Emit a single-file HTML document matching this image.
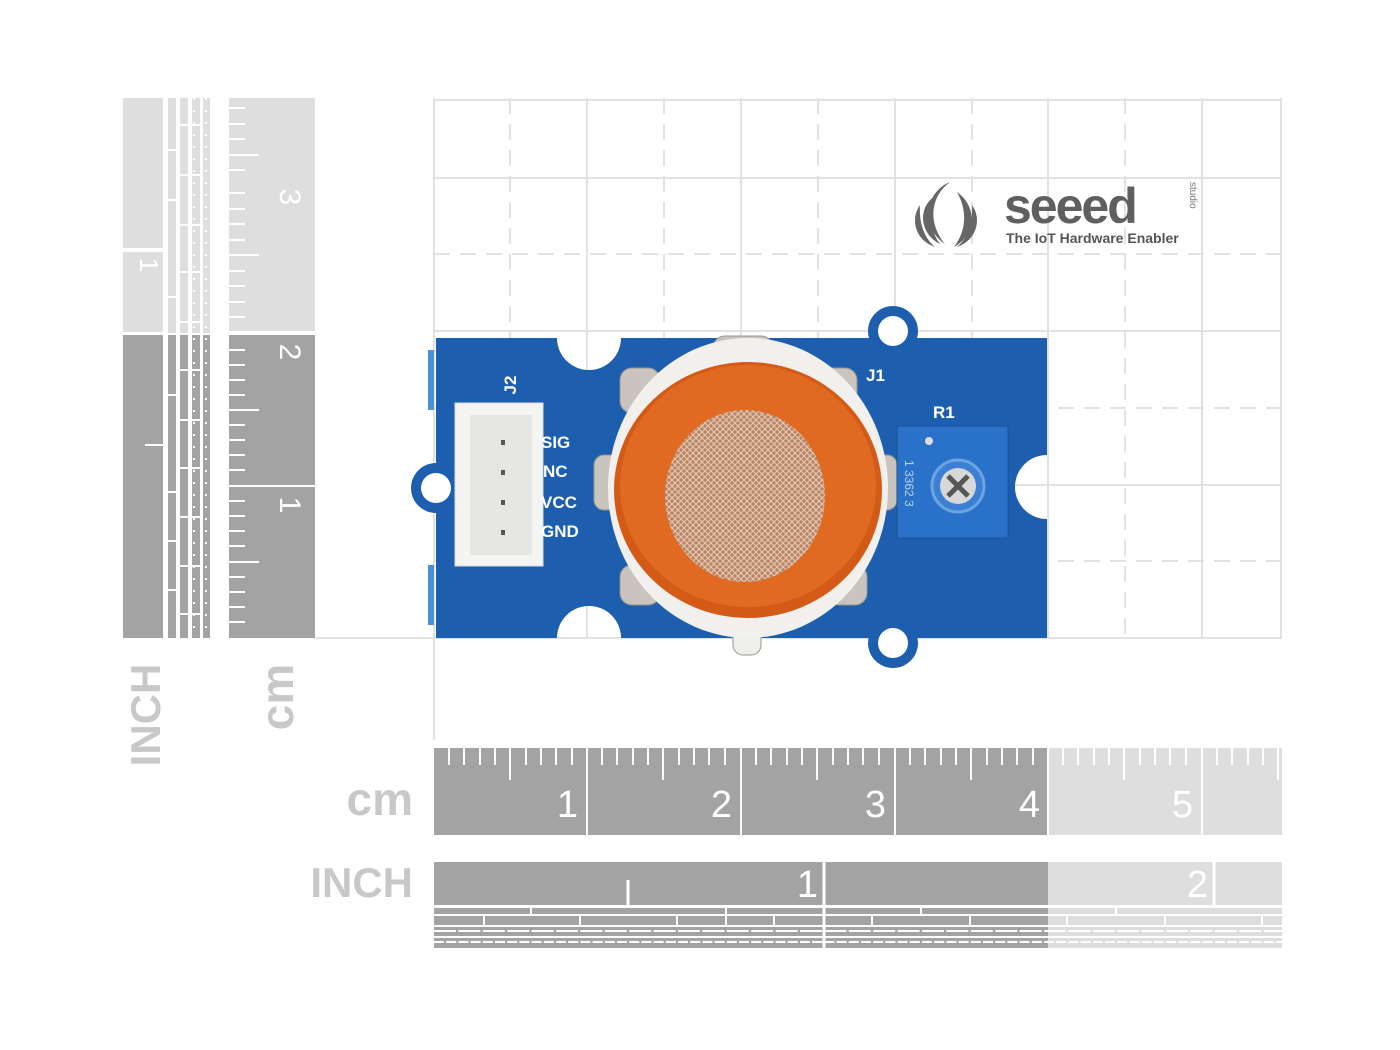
<!DOCTYPE html>
<html><head><meta charset="utf-8"><style>
html,body{margin:0;padding:0;background:#fff;width:1400px;height:1050px;overflow:hidden}
svg{display:block}
text{font-family:"Liberation Sans",sans-serif}
</style></head><body>
<svg width="1400" height="1050" viewBox="0 0 1400 1050" xmlns="http://www.w3.org/2000/svg">
<defs>
<pattern id="mesh" width="6" height="6" patternUnits="userSpaceOnUse">
<rect width="6" height="6" fill="#b98466"/><path d="M0 0L6 6M6 0L0 6" stroke="#e2c3ac" stroke-width="1.2"/>
</pattern>
</defs>
<!-- grid -->
<g stroke="#e2e2e2" stroke-width="2" fill="none">
<path d="M434 98V740M587 98V638M741 98V638M895 98V638M1048 98V638M1202 98V638M1281 98V638"/>
<path d="M434 100H1282M434 178H1282M434 331H1282M434 485H1282M316 638H1282"/>
<path stroke-dasharray="16 10" d="M510 98V638M664 98V638M818 98V638M972 98V638M1125 98V638M434 254H1282M434 408H1282M434 561H1282"/>
</g>
<!-- left INCH ruler -->
<rect x="123" y="98" width="40" height="150" fill="#dedede"/>
<rect x="123" y="252" width="40" height="80" fill="#dedede"/>
<rect x="123" y="335" width="40" height="303" fill="#a3a3a3"/>
<g fill="#dedede">
<rect x="168" y="98" width="8" height="235"/><rect x="180" y="98" width="8" height="235"/><rect x="192" y="98" width="8" height="235"/><rect x="203" y="98" width="7" height="235"/>
</g>
<g fill="#a3a3a3">
<rect x="168" y="335" width="8" height="303"/><rect x="180" y="335" width="8" height="303"/><rect x="192" y="335" width="8" height="303"/><rect x="203" y="335" width="7" height="303"/>
</g>
<g stroke="#fff" stroke-width="2">
<path d="M178 98V638M190 98V638M201 98V638"/>
<path d="M168 150H178M168 200H178M168 297H178M168 395H178M168 492H178M168 541H178M168 590H178" />
<path d="M180 125H201M180 175H201M180 225H201M180 272H201M180 322H201M180 370H201M180 420H201M180 468H201M180 517H201M180 566H201M180 614H201"/>
<path stroke-dasharray="2 10" d="M206 98V638M194 98V638"/>
<path d="M145 445H163"/>
</g>
<text transform="translate(147,265) rotate(90)" font-size="26" fill="#fff" text-anchor="middle" dominant-baseline="middle">1</text>
<!-- left cm ruler -->
<rect x="229" y="98" width="86" height="233" fill="#dedede"/>
<rect x="229" y="335" width="86" height="303" fill="#a3a3a3"/>
<g stroke="#fff" stroke-width="2">
<path d="M229 333H315"/>
<path d="M229 486H315"/>
<path d="M229 108H245M229 124H245M229 139H245M229 155H259M229 170H245M229 193H245M229 209H245M229 224H245M229 240H245M229 255H259M229 271H245M229 286H245M229 302H245M229 317H245M229 350H245M229 365H245M229 380H245M229 395H245M229 410H259M229 425H245M229 440H245M229 455H245M229 470H245M229 501H245M229 516H245M229 531H245M229 546H245M229 562H259M229 577H245M229 592H245M229 607H245M229 622H245"/>
</g>
<text transform="translate(288,197) rotate(90)" font-size="30" fill="#fff" text-anchor="middle" dominant-baseline="middle">3</text>
<text transform="translate(288,352) rotate(90)" font-size="30" fill="#fff" text-anchor="middle" dominant-baseline="middle">2</text>
<text transform="translate(288,505) rotate(90)" font-size="30" fill="#fff" text-anchor="middle" dominant-baseline="middle">1</text>
<text transform="translate(160,715) rotate(-90)" font-size="42" font-weight="bold" fill="#c8c8c8" text-anchor="middle">INCH</text>
<text transform="translate(293,697) rotate(-90)" font-size="46" font-weight="bold" fill="#c8c8c8" text-anchor="middle">cm</text>
<!-- bottom cm ruler -->
<rect x="434" y="748" width="614" height="87" fill="#a3a3a3"/>
<rect x="1048" y="748" width="234" height="87" fill="#dedede"/>
<g stroke="#fff" stroke-width="2">
<path d="M587 748V835M741 748V835M895 748V835M1048 748V835M1202 748V835"/>
<path id="tk" d="M449 748V765M464 748V765M480 748V765M495 748V765M510 748V780M526 748V765M541 748V765M556 748V765M572 748V765"/>
</g>
<g stroke="#fff" stroke-width="2">
<use href="#tk" x="153"/><use href="#tk" x="307"/><use href="#tk" x="461"/><use href="#tk" x="614"/><use href="#tk" x="768"/>
</g>
<g font-size="38" fill="#fff" text-anchor="end">
<text x="578" y="817">1</text><text x="732" y="817">2</text><text x="886" y="817">3</text><text x="1040" y="817">4</text><text x="1193" y="817">5</text>
</g>
<text x="413" y="815" font-size="46" font-weight="bold" fill="#c8c8c8" text-anchor="end">cm</text>
<!-- bottom INCH ruler -->
<rect x="434" y="862" width="614" height="43" fill="#a3a3a3"/>
<rect x="1048" y="862" width="234" height="43" fill="#dedede"/>
<path d="M824 862V905M1214 862V905M628 880V905" stroke="#fff" stroke-width="3"/>
<g font-size="38" fill="#fff" text-anchor="end"><text x="818" y="897">1</text><text x="1208" y="897">2</text></g>
<text x="413" y="897" font-size="42" font-weight="bold" fill="#c8c8c8" text-anchor="end">INCH</text>
<g>
<rect x="434" y="908" width="614" height="40" fill="#a3a3a3"/>
<rect x="1048" y="908" width="234" height="40" fill="#dedede"/>
<g stroke="#fff" stroke-width="2">
<path d="M434 915H1282M434 926H1282M434 937H1282"/>
<path d="M531 906V915M726 906V926M921 906V915M1116 906V915M484 915V926M580 915V926M677 915V926M774 915V926M872 915V926M970 915V926M1067 915V926M1165 915V926M1262 915V926"/>
<path stroke-dasharray="22 2.4" d="M434 931H1282"/>
<path stroke-dasharray="10 2.2" d="M434 942H1282"/>
<path d="M824 906V948" stroke-width="3"/>
</g>
</g>
<!-- seeed logo -->
<g fill="#666">
<path d="M950 182c-25 10-30 45-5 62c-18-22-14-48 5-62z"/>
<path d="M935 196c-18 12-15 38 5 48c-12-16-10-36-5-48z"/>
<path d="M957 192c10 18 10 38 -3 55c22-12 24-40 3-55z"/>
<path d="M920 205c-10 14-5 35 15 42c-12-10-16-26-15-42z"/>
<path d="M972 205c10 14 5 35-15 42c12-10 16-26 15-42z"/>
</g>
<text x="1004" y="223" font-size="50" font-weight="bold" fill="#5f5f5f" letter-spacing="-2">seeed</text>
<text transform="translate(1190,182) rotate(90)" font-size="10" fill="#777">studio</text>
<text x="1006" y="243" font-size="14" font-weight="bold" fill="#555">The IoT Hardware Enabler</text>
<!-- PCB -->
<g fill="#1d5fae">
<circle cx="893" cy="331" r="25"/><circle cx="893" cy="643" r="25"/><circle cx="436" cy="488" r="25"/>
<path d="M436 338H557A32 32 0 0 0 621 338H1047V455A32 32 0 0 0 1047 519V638H621A32 32 0 0 0 557 638H436Z"/>
</g>
<g fill="#fff"><circle cx="893" cy="331" r="15"/><circle cx="893" cy="643" r="15"/><circle cx="436" cy="488" r="15"/></g>
<g fill="#4a90d9"><rect x="428" y="350" width="6" height="60"/><rect x="428" y="565" width="6" height="60"/></g>
<!-- connector -->
<rect x="455" y="403" width="88" height="163" fill="#f4f4f2" stroke="#ddd"/>
<rect x="470" y="415" width="62" height="140" fill="#e6e6e4"/>
<g fill="#555"><rect x="501" y="440" width="4" height="5"/><rect x="501" y="470" width="4" height="5"/><rect x="501" y="500" width="4" height="5"/><rect x="501" y="530" width="4" height="5"/></g>
<g font-size="17" font-weight="bold" fill="#fff">
<text x="541" y="448">SIG</text><text x="543" y="477">NC</text><text x="541" y="508">VCC</text><text x="541" y="537">GND</text>
<text transform="translate(516,385) rotate(-90)" text-anchor="middle">J2</text>
<text x="866" y="381">J1</text><text x="933" y="418">R1</text>
</g>
<!-- sensor metal tabs -->
<g fill="#c9c4be" stroke="#9a948e">
<rect x="713" y="336" width="60" height="30" rx="12"/>
<rect x="620" y="368" width="40" height="45" rx="12"/>
<rect x="817" y="368" width="40" height="45" rx="12"/>
<rect x="594" y="455" width="30" height="55" rx="10"/>
<rect x="872" y="455" width="25" height="55" rx="10"/>
<rect x="620" y="565" width="40" height="40" rx="12"/>
<rect x="827" y="565" width="40" height="40" rx="12"/>
<rect x="733" y="615" width="28" height="40" rx="10" fill="#eeeeea"/>
</g>
<ellipse cx="748" cy="488" rx="140" ry="150" fill="#f2f0ec"/>
<ellipse cx="748" cy="490" rx="134" ry="128" fill="#d45a18"/>
<ellipse cx="748" cy="486" rx="128" ry="121" fill="#e06a22"/>
<ellipse cx="745" cy="496" rx="80" ry="86" fill="url(#mesh)"/>
<!-- pot -->
<rect x="897" y="426" width="111" height="112" fill="#2a72c9" stroke="#1a4f96"/>
<circle cx="958" cy="486" r="26" fill="#3b80d4" stroke="#6ea3e0" stroke-width="3"/>
<circle cx="958" cy="486" r="18" fill="#d8d8d8"/>
<path d="M948 476L968 496M968 476L948 496" stroke="#555" stroke-width="5"/>
<circle cx="929" cy="441" r="4" fill="#ddd"/>
<text transform="translate(905,460) rotate(90)" font-size="12" fill="#bcd4f0">1  3362 3</text>
</svg>
</body></html>
